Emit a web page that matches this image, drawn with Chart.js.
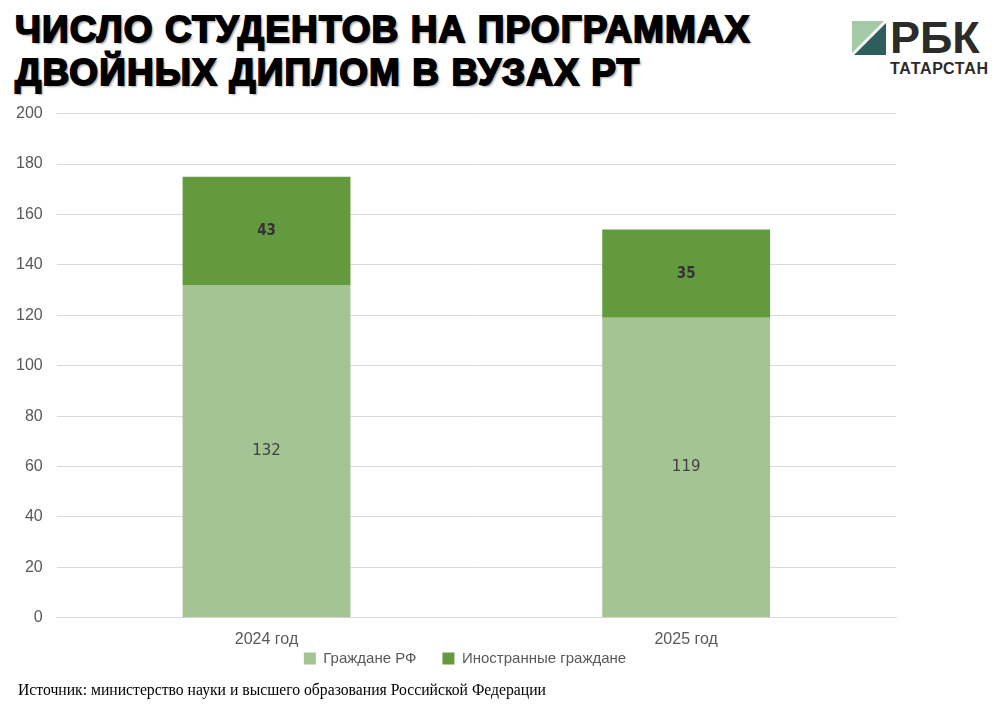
<!DOCTYPE html>
<html>
<head>
<meta charset="utf-8">
<script src="https://cdn.jsdelivr.net/npm/chart.js@4.4.0/dist/chart.umd.min.js"></script>
<style>
  body { margin: 0; background: #fff; width: 1007px; height: 727px; overflow: hidden; position: relative; font-family: "Liberation Sans", Arial, sans-serif; }
  #title { position: absolute; left: 15px; top: 8px; font-size: 37px; line-height: 43px; font-weight: 900; color: #000;
           -webkit-text-stroke: 1.8px #000; text-shadow: 2px 2px 2px rgba(0,0,0,0.35); letter-spacing: 1.1px; }
  #logo { position: absolute; left: 852px; top: 21px; }
  #rbk { position: absolute; left: 38px; top: -9px; font-size: 45px; font-weight: bold; color: #2b2b2b; }
  #tat { position: absolute; left: 38px; top: 39px; font-size: 16px; font-weight: bold; color: #2b2b2b; letter-spacing: 0.6px; }
  #chartBox { position: absolute; left: 0; top: 90px; width: 1007px; height: 622px; }
  #source { position: absolute; left: 18px; top: 681px; font-family: "Liberation Serif", "Times New Roman", serif; font-size: 15.7px; color: #000; }
</style>
</head>
<body>
<div id="title">ЧИСЛО СТУДЕНТОВ НА ПРОГРАММАХ<br>ДВОЙНЫХ ДИПЛОМ В ВУЗАХ РТ</div>
<div id="logo">
  <svg width="36" height="36" style="position:absolute;left:0;top:0">
    <polygon points="0,0 32,0 0,32" fill="#a3c9a5"/>
    <polygon points="34,2 34,34 2,34" fill="#2e5e5c"/>
  </svg>
  <div id="rbk">РБК</div>
  <div id="tat">ТАТАРСТАН</div>
</div>
<div id="chartBox"><canvas id="studentsChart"></canvas></div>
<div id="source">Источник: министерство науки и высшего образования Российской Федерации</div>

<script>
var years = ['2024 год', '2025 год'];
var russianCitizens = [132, 119];
var foreignCitizens = [43, 35];
var seriesNames = ['Граждане РФ', 'Иностранные граждане'];

// подписи значений в центре сегментов
var barLabels = {
  id: 'barLabels',
  afterDatasetsDraw: function (chart) {
    var ctx = chart.ctx;
    ctx.save();
    ctx.textAlign = 'center';
    ctx.textBaseline = 'middle';
    chart.data.datasets.forEach(function (ds, i) {
      var meta = chart.getDatasetMeta(i);
      meta.data.forEach(function (bar, j) {
        var p = bar.getProps(['x', 'y', 'base'], true);
        if (i === 0) {
          ctx.font = '15px "DejaVu Sans", sans-serif';
          ctx.fillStyle = '#404040';
        } else {
          ctx.font = 'bold 15px "DejaVu Sans Condensed", "DejaVu Sans", sans-serif';
          ctx.fillStyle = '#333333';
        }
        ctx.fillText(ds.data[j], p.x, (p.y + p.base) / 2);
      });
    });
    ctx.restore();
  }
};

// легенда выше и чуть правее, как в оригинале
var legendShift = {
  id: 'legendShift',
  afterLayout: function (chart) {
    var lg = chart.legend;
    if (lg) {
      lg.top -= 36;
      lg.bottom -= 36;
      lg.left += 16;
      lg.right += 16;
    }
  }
};

var ctx = document.getElementById('studentsChart').getContext('2d');
var chart = new Chart(ctx, {
  type: 'bar',
  data: {
    labels: years,
    datasets: [{
      label: seriesNames[0],
      data: russianCitizens,
      backgroundColor: '#a4c593'
    }, {
      label: seriesNames[1],
      data: foreignCitizens,
      backgroundColor: '#639a3d'
    }]
  },
  options: {
    responsive: true,
    maintainAspectRatio: false,
    animation: false,
    layout: { padding: { left: 2, right: 111, top: 5, bottom: 0 } },
    datasets: { bar: { categoryPercentage: 0.4, barPercentage: 1.0 } },
    scales: {
      x: {
        stacked: true,
        grid: { display: false, drawTicks: false },
        border: { color: '#d9d9d9', width: 1 },
        ticks: { color: '#595959', font: { family: 'Liberation Sans', size: 16 }, padding: 12 }
      },
      y: {
        stacked: true,
        min: 0, max: 200,
        grid: { color: '#d9d9d9', drawTicks: false },
        border: { display: false },
        ticks: { stepSize: 20, color: '#595959', font: { family: 'Liberation Sans', size: 16 }, padding: 14 }
      }
    },
    plugins: {
      legend: {
        position: 'bottom',
        labels: { color: '#595959', font: { family: 'Liberation Sans', size: 15 }, boxWidth: 12, boxHeight: 12, padding: 26 }
      },
      tooltip: { enabled: false }
    }
  },
  plugins: [barLabels, legendShift]
});
</script>
</body>
</html>
